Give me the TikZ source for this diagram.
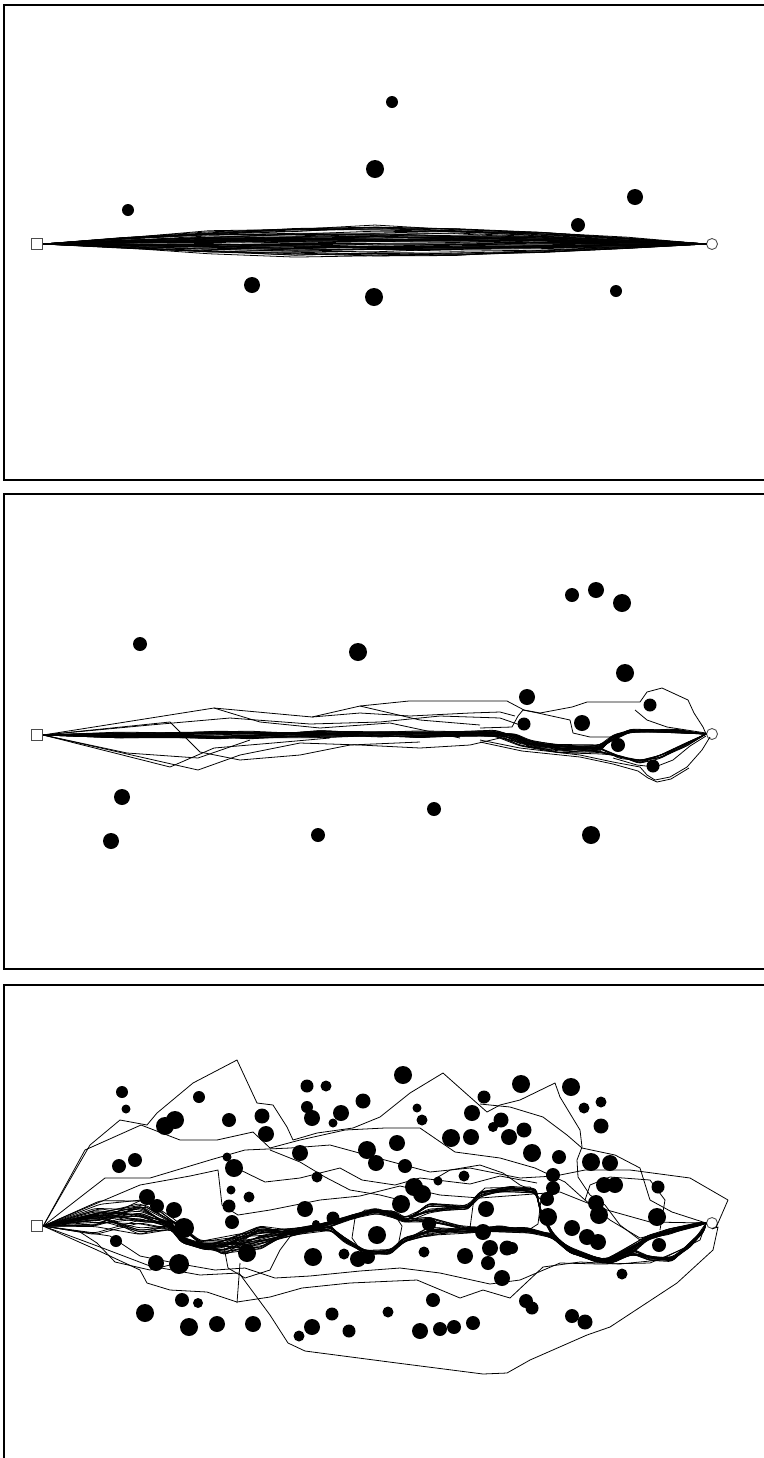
\documentclass[tikz,border=0pt]{standalone}
\begin{document}
\begin{tikzpicture}[
    x=0.02cm, y=-0.02cm,
    frame/.style={line width=1.1pt},
    traj/.style={line width=0.45pt, line join=round},
    band/.style={traj, rounded corners=2pt},
    obst/.style={fill=black},
    startbox/.style={rectangle, draw=black!70, fill=white, inner sep=0pt, minimum size=0.23cm, line width=0.5pt},
    goalmark/.style={circle, draw=black!70, fill=white, inner sep=0pt, minimum size=0.22cm, line width=0.5pt}
  ]
  \useasboundingbox (0,0) rectangle (764,1458);
  \pgfmathsetseed{4711}

  % Rahmen der drei Felder
  \draw[frame] (764,5) -- (4,5) -- (4,480) -- (764,480);
  \draw[frame] (764,494) -- (4,494) -- (4,969) -- (764,969);
  \draw[frame] (764,985) -- (4,985) -- (4,1458);

  % Start und Ziel
  \node[startbox] (s1) at (37,244) {};
  \node[goalmark] (g1) at (712,244) {};
  \node[startbox] (s2) at (37,735) {};
  \node[goalmark] (g2) at (712,734) {};
  \node[startbox] (s3) at (37,1226) {};
  \node[goalmark] (g3) at (712,1223) {};

  % Feld 1: Bahnen
  \foreach \k in {1,...,55}{
    \pgfmathsetmacro{\amp}{15*rand-2}
    \draw[traj] (s1.east) \foreach \t in {0.12,0.25,0.38,0.5,0.62,0.75,0.88}{ -- ({43+664*\t},{244+sin(180*\t)*(\amp+2*rand)}) } -- (g1.west);
  }

  % Feld 2: Bahnenbuendel
  \foreach \k in {1,...,18}{
    \draw[band] (s2.east) -- ({120},{735+3*rand}) -- ({220},{735+4*rand}) -- ({320},{734+4*rand}) -- ({420},{734+4*rand}) -- ({495},{733+3*rand}) -- ({515},{737+4*rand}) -- ({530},{744+4*rand}) -- ({565},{748+4*rand}) -- ({600},{748+4*rand}) -- ({613},{738+3*rand}) -- ({630},{731+2*rand}) -- ({675},{731+2*rand}) -- (g2.west);
  }
  \foreach \k in {1,...,9}{
    \draw[band] (s2.east) -- ({120},{735+3*rand}) -- ({250},{735+4*rand}) -- ({380},{734+4*rand}) -- ({495},{734+3*rand}) -- ({520},{742+4*rand}) -- ({560},{749+4*rand}) -- ({600},{751+4*rand}) -- ({620},{757+2*rand}) -- ({640},{762+2*rand}) -- ({660},{757+2*rand}) -- ({685},{745+2*rand}) -- (g2.west);
  }
  % Feld 2: einzelne Bahnen
  \draw[traj] (s2.east) -- (214,708) -- (312,717) -- (360,706) -- (409,701) -- (456,701) -- (507,701) -- (524,710) -- (540,713) -- (572,707) -- (587,702) -- (640,702) -- (647,692) -- (662,688) -- (688,700) -- (694,713) -- (703,727) -- (g2.west);
  \draw[traj] (s2.east) -- (170,722) -- (200,752) -- (240,760) -- (300,755) -- (350,745) -- (420,742);
  \draw[traj] (s2.east) -- (170,767) -- (214,748) -- (273,743) -- (330,738);
  \draw[traj] (s2.east) -- (198,770) -- (240,755) -- (300,743) -- (360,745) -- (420,748) -- (470,745) -- (500,738);
  \draw[traj] (s2.east) -- (127,753) -- (198,758) -- (250,740);
  \draw[traj] (s2.east) -- (150,725) -- (230,718) -- (310,724) -- (380,722) -- (440,716) -- (500,718) -- (523,726);
  \draw[traj] (214,708) -- (260,722) -- (320,728) -- (390,723) -- (460,738);
  \draw[traj] (312,717) -- (360,713) -- (410,716) -- (470,713) -- (500,712) -- (515,716);
  \draw[traj] (360,706) -- (420,720) -- (480,725);
  \draw[traj] (480,728) -- (512,727) -- (518,716) -- (523,710) -- (538,713) -- (570,720) -- (573,733) -- (590,737) -- (612,737);
  \draw[traj] (480,740) -- (520,748) -- (580,755) -- (613,762) -- (640,767) -- (647,775) -- (655,780) -- (670,777) -- (687,767) -- (702,750) -- (710,737);
  \draw[traj] (480,742) -- (522,751) -- (580,757) -- (613,764) -- (638,771) -- (648,778) -- (657,782) -- (671,779) -- (689,768);
  \draw[traj] (613,758) -- (637,765) -- (655,767) -- (673,760) -- (690,746) -- (706,736);
  \draw[traj] (635,710) -- (647,720) -- (667,727) -- (706,733);

  % Feld 3: Bahnenbuendel
  \foreach \k in {1,...,14}{
    \draw[band] (s3.east) -- ({95},{1218+12*rand}) -- ({140},{1216+16*rand}) -- ({171},{1224+4*rand}) -- ({182},{1240+3*rand}) -- ({205},{1247+3*rand}) -- ({224},{1247+8*rand}) -- ({260},{1238+12*rand}) -- ({292},{1232+4*rand}) -- ({330},{1224+3*rand}) -- ({355},{1216+3*rand}) -- ({375},{1211+3*rand}) -- ({395},{1214+3*rand}) -- ({405},{1220+3*rand}) -- ({429},{1208+5*rand}) -- ({468},{1207+3*rand}) -- ({480},{1194+3*rand}) -- ({510},{1189+3*rand}) -- ({536},{1191+3*rand}) -- ({541},{1213+3*rand}) -- ({553},{1235+3*rand}) -- ({570},{1250+3*rand}) -- ({597},{1260+3*rand}) -- ({613},{1260+3*rand}) -- ({633},{1250+3*rand}) -- ({648},{1238+3*rand}) -- ({668},{1232+3*rand}) -- ({700},{1224+2*rand}) -- (g3.west);
  }
  \foreach \k in {1,...,14}{
    \draw[band] (s3.east) -- ({95},{1224+12*rand}) -- ({140},{1222+16*rand}) -- ({171},{1226+4*rand}) -- ({182},{1240+3*rand}) -- ({205},{1247+3*rand}) -- ({224},{1247+8*rand}) -- ({260},{1238+12*rand}) -- ({292},{1232+4*rand}) -- ({330},{1228+3*rand}) -- ({345},{1240+3*rand}) -- ({365},{1252+3*rand}) -- ({390},{1252+3*rand}) -- ({404},{1240+3*rand}) -- ({429},{1232+5*rand}) -- ({470},{1230+3*rand}) -- ({500},{1228+3*rand}) -- ({527},{1230+3*rand}) -- ({553},{1236+3*rand}) -- ({570},{1250+3*rand}) -- ({597},{1260+3*rand}) -- ({613},{1260+3*rand}) -- ({633},{1252+3*rand}) -- ({650},{1258+3*rand}) -- ({672},{1259+3*rand}) -- ({690},{1245+3*rand}) -- ({704},{1230+2*rand}) -- (g3.west);
  }
  \foreach \k in {1,...,8}{
    \draw[band] (s3.east) -- ({100},{1212+12*rand}) -- ({145},{1210+16*rand}) -- ({175},{1222+4*rand}) -- ({200},{1240+4*rand}) -- ({240},{1240+10*rand}) -- ({292},{1232+4*rand}) -- ({330},{1224+3*rand}) -- ({375},{1211+3*rand}) -- ({405},{1220+3*rand}) -- ({429},{1220+3*rand}) -- ({470},{1228+3*rand}) -- ({527},{1230+3*rand}) -- ({553},{1235+3*rand}) -- ({570},{1250+3*rand}) -- ({605},{1261+3*rand}) -- ({648},{1238+3*rand}) -- ({700},{1224+2*rand}) -- (g3.west);
  }
  % Feld 3: einzelne Bahnen
  \draw[traj] (s3.east) -- (90,1145) -- (120,1120) -- (147,1125) -- (157,1113) -- (193,1083) -- (237,1060) -- (257,1103) -- (273,1105) -- (287,1127) -- (293,1140) -- (317,1133) -- (353,1128) -- (380,1117) -- (410,1093) -- (443,1073) -- (470,1097) -- (487,1112) -- (500,1105) -- (520,1100) -- (555,1083) -- (560,1097) -- (580,1130) -- (582,1147) -- (577,1160) -- (578,1177) -- (590,1195) -- (605,1205) -- (620,1225) -- (640,1240) -- (668,1233) -- (g3.west);
  \draw[traj] (s3.east) -- (85,1150) -- (141,1125) -- (180,1140) -- (217,1140) -- (253,1132) -- (270,1148) -- (300,1140) -- (345,1130) -- (385,1128) -- (420,1128) -- (455,1152) -- (500,1158) -- (535,1168) -- (565,1182) -- (585,1200) -- (610,1220) -- (640,1238) -- (g3.west);
  \draw[traj] (s3.east) -- (105,1178) -- (150,1178) -- (210,1160) -- (245,1150) -- (290,1148) -- (330,1145) -- (385,1160) -- (430,1172) -- (470,1168) -- (520,1178) -- (555,1176) -- (585,1170) -- (630,1170) -- (690,1178) -- (728,1200) -- (g3.south east);
  \draw[traj] (s3.east) -- (140,1185) -- (190,1176) -- (218,1170) -- (222,1205) -- (238,1215) -- (270,1210) -- (320,1200) -- (360,1196) -- (400,1186) -- (440,1195) -- (480,1198) -- (520,1195) -- (560,1192) -- (600,1208) -- (650,1222) -- (g3.west);
  \draw[traj] (s3.east) -- (97,1250) -- (140,1270) -- (147,1283) -- (170,1290) -- (207,1292) -- (237,1302) -- (270,1297) -- (302,1288) -- (350,1283) -- (417,1280) -- (460,1298) -- (483,1290) -- (510,1298) -- (543,1267) -- (580,1262) -- (620,1264) -- (660,1260) -- (700,1240) -- (g3.west);
  \draw[traj] (s3.east) -- (100,1247) -- (150,1266) -- (200,1275) -- (239,1273) -- (270,1315) -- (288,1343) -- (305,1351) -- (397,1363) -- (483,1374) -- (507,1373) -- (530,1360) -- (587,1335) -- (610,1327) -- (677,1283) -- (713,1250) -- (718,1227) -- (g3.south);
  \draw[traj] (s3.east) -- (110,1236) -- (140,1256) -- (175,1263) -- (215,1270) -- (245,1268) -- (275,1278) -- (310,1276) -- (360,1271) -- (400,1268) -- (440,1273) -- (490,1284) -- (520,1280) -- (560,1263) -- (600,1264) -- (650,1263) -- (690,1246) -- (g3.west);
  \draw[traj] (224,1247) -- (228,1268) -- (245,1278) -- (270,1270) -- (280,1250) -- (292,1234);
  \draw[traj] (230,1165) -- (265,1182) -- (300,1178) -- (340,1168) -- (362,1180) -- (395,1185) -- (420,1178) -- (470,1184) -- (500,1176) -- (537,1183);
  \draw[traj] (480,1104) -- (510,1107) -- (543,1117) -- (567,1135) -- (582,1148) -- (615,1155) -- (640,1168) -- (650,1200) -- (672,1212) -- (g3.west);
  \draw[traj] (270,1150) -- (300,1162) -- (325,1177) -- (350,1190) -- (380,1195) -- (400,1200);
  \draw[traj] (433,1180) -- (450,1170) -- (480,1165) -- (503,1173) -- (520,1185) -- (537,1192);
  \draw[traj] (s3.east) -- (80,1232) -- (97,1243) -- (115,1262) -- (150,1270) -- (182,1262);
  \draw[traj] (240,1263) -- (237,1303);
  \draw[traj] (470,1228) -- (474,1198) -- (485,1188) -- (530,1187) -- (541,1200) -- (538,1224) -- (527,1231);
  \draw[traj] (585,1200) -- (590,1185) -- (610,1177) -- (650,1180) -- (665,1200) -- (660,1230);
  \draw[traj] (352,1238) -- (355,1218) -- (365,1210) -- (392,1211) -- (402,1226) -- (398,1246) -- (384,1254) -- (362,1252) -- (352,1238);

  % Hindernisse
  \foreach \x/\y/\r in {392/102/6, 375/169/9, 128/210/6, 635/197/8, 578/225/7, 252/285/8, 374/297/9, 616/291/6}
    \fill[obst] (\x,\y) circle[radius=\r];
  \foreach \x/\y/\r in {572/595/7, 596/590/8, 622/603/9, 140/644/7, 358/652/9, 625/673/9, 527/697/8, 650/705/6.5, 524/724/6.5, 582/723/8, 618/745/7, 653/766/6.5, 122/797/8, 434/809/7, 111/841/8, 318/835/7, 591/835/9}
    \fill[obst] (\x,\y) circle[radius=\r];
  \foreach \x/\y/\r in {122/1092/6, 126/1109/4.5, 199/1097/6, 165/1126/9, 175/1120/9, 229/1120/7, 262/1116/7.5, 266/1134/8, 119/1166/7, 135/1160/7, 227/1157/4.5, 234/1168/9, 231/1190/4.5, 249/1197/5.5, 147/1197/8, 157/1206/7, 174/1210/8, 229/1206/6.5, 232/1222/7, 184/1228/10, 116/1241/6, 156/1263/8, 179/1264/10, 247/1253/9, 182/1300/7, 198/1303/5, 145/1313/9, 189/1327/9, 217/1324/8, 253/1324/8}
    \fill[obst] (\x,\y) circle[radius=\r];
  \foreach \x/\y/\r in {307/1086/6.5, 326/1086/5.5, 403/1075/9, 307/1107/6, 312/1118/8, 341/1113/8, 333/1123/4.5, 363/1101/7.5, 417/1108/4.5, 422/1120/5.5, 484/1097/6.5, 472/1113/8, 501/1120/7.5, 493/1127/5, 521/1084/9, 300/1153/8, 367/1150/9, 376/1163/8, 397/1143/8, 405/1166/7, 451/1138/9, 471/1137/8, 509/1137/8, 317/1177/5.5, 438/1181/4.5, 464/1176/5.5, 414/1187/9, 422/1194/9, 401/1204/9, 305/1209/8, 333/1218/6.5, 316/1224/4, 486/1209/8, 429/1224/7}
    \fill[obst] (\x,\y) circle[radius=\r];
  \foreach \x/\y/\r in {571/1087/9, 601/1102/5.5, 584/1108/5.5, 601/1126/7.5, 524/1130/7.5, 532/1153/9, 559/1157/7, 591/1162/9, 610/1163/8, 553/1175/7, 553/1188/7, 604/1185/8, 615/1185/8, 658/1187/6.5, 547/1199/7, 596/1203/8, 599/1215/9, 548/1217/9, 657/1217/9}
    \fill[obst] (\x,\y) circle[radius=\r];
  \foreach \x/\y/\r in {572/1228/8, 587/1237/8, 598/1242/8, 512/1248/6, 659/1245/7, 622/1274/5.5, 526/1301/7, 532/1308/6.5, 572/1316/7, 585/1322/7.5, 377/1235/9, 424/1252/5.5, 313/1257/9, 344/1254/5.5, 358/1259/8, 368/1257/7, 465/1256/8, 483/1232/8, 490/1248/8, 507/1248/7.5, 488/1263/7, 502/1278/8, 433/1300/7, 388/1312/5.5, 332/1314/6.5, 312/1327/8, 299/1336/5.5, 349/1331/6.5, 420/1331/8, 440/1329/7, 454/1327/7, 473/1323/7}
    \fill[obst] (\x,\y) circle[radius=\r];
\end{tikzpicture}
\end{document}
